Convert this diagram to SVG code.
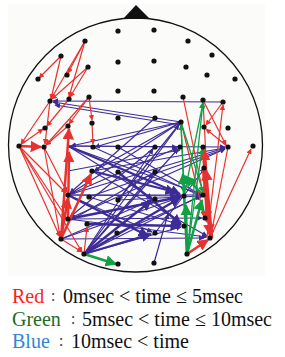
<svg xmlns="http://www.w3.org/2000/svg" width="285" height="357" viewBox="0 0 285 357">
<style>
.dot{fill:#111}
.r{stroke:#e8322f;stroke-width:1.2;fill:none;marker-end:url(#mr)}
.rt{stroke:#e8322f;stroke-width:2.5;fill:none;marker-end:url(#mr)}
.g{stroke:#12a046;stroke-width:1.3;fill:none;marker-end:url(#mg)}
.gt{stroke:#12a046;stroke-width:2.5;fill:none;marker-end:url(#mg)}
.b{stroke:#3d2b96;stroke-width:1.2;fill:none;marker-end:url(#mb)}
.bt{stroke:#3d2b96;stroke-width:2.3;fill:none;marker-end:url(#mb)}
text{font-family:"Liberation Serif","Noto Sans CJK JP",serif;font-size:20px}
.col{font-size:17px;fill:#444;text-anchor:middle}
</style>
<defs>
<marker id="mr" viewBox="0 0 10 10" refX="9" refY="5" markerWidth="4.6" markerHeight="4.6" markerUnits="strokeWidth" orient="auto"><path d="M0,0L10,5L0,10z" fill="#e8322f"/></marker>
<marker id="mg" viewBox="0 0 10 10" refX="9" refY="5" markerWidth="4.6" markerHeight="4.6" markerUnits="strokeWidth" orient="auto"><path d="M0,0L10,5L0,10z" fill="#12a046"/></marker>
<marker id="mb" viewBox="0 0 10 10" refX="9" refY="5" markerWidth="4.6" markerHeight="4.6" markerUnits="strokeWidth" orient="auto"><path d="M0,0L10,5L0,10z" fill="#3d2b96"/></marker>
</defs>
<rect width="285" height="357" fill="#fff"/>
<rect x="8" y="4" width="257" height="272" fill="#fbfbfa"/>
<g id="head">
<circle cx="135.5" cy="145" r="127" fill="none" stroke="#111" stroke-width="1.3"/>
<path d="M123,19L136,5L150,19z" fill="#111"/>
</g>
<g id="connectors">
<!-- blue -->
<line class="b" x1="223" y1="102" x2="53" y2="101"/>
<line class="b" x1="181" y1="122" x2="53" y2="102"/>
<line class="b" x1="181" y1="125" x2="55" y2="105"/>
<line class="b" x1="181" y1="122" x2="71" y2="146"/>
<line class="b" x1="181" y1="122" x2="95" y2="147"/>
<line class="b" x1="181" y1="122" x2="94" y2="171"/>
<line class="b" x1="181" y1="122" x2="70" y2="194"/>
<line class="b" x1="84" y1="254" x2="179" y2="125"/>
<line class="b" x1="68" y1="146" x2="225" y2="147"/>
<line class="b" x1="68" y1="146" x2="177" y2="147"/>
<line class="b" x1="68" y1="146" x2="200" y2="194"/>
<line class="bt" x1="68" y1="146" x2="180" y2="194"/>
<line class="b" x1="68" y1="146" x2="152" y2="198"/>
<line class="b" x1="92" y1="171" x2="225" y2="148"/>
<line class="b" x1="68" y1="195" x2="225" y2="148"/>
<line class="b" x1="68" y1="195" x2="177" y2="148"/>
<line class="b" x1="68" y1="195" x2="181" y2="196"/>
<line class="b" x1="68" y1="195" x2="200" y2="195"/>
<line class="b" x1="89" y1="197" x2="225" y2="149"/>
<line class="b" x1="68" y1="219" x2="225" y2="149"/>
<line class="bt" x1="68" y1="219" x2="180" y2="197"/>
<line class="b" x1="68" y1="219" x2="202" y2="218"/>
<line class="b" x1="68" y1="219" x2="207" y2="237"/>
<line class="bt" x1="87" y1="224" x2="180" y2="226"/>
<line class="b" x1="61" y1="239" x2="204" y2="238"/>
<line class="b" x1="61" y1="239" x2="181" y2="197"/>
<line class="b" x1="61" y1="239" x2="152" y2="200"/>
<line class="b" x1="84" y1="254" x2="178" y2="149"/>
<line class="b" x1="84" y1="254" x2="153" y2="149"/>
<line class="bt" x1="84" y1="254" x2="180" y2="198"/>
<line class="bt" x1="84" y1="254" x2="151" y2="201"/>
<line class="b" x1="84" y1="254" x2="181" y2="227"/>
<line class="bt" x1="84" y1="254" x2="151" y2="234"/>
<line class="b" x1="84" y1="254" x2="153" y2="174"/>
<line class="b" x1="84" y1="254" x2="200" y2="196"/>
<line class="b" x1="154" y1="263" x2="168" y2="214"/>
<line class="b" x1="118" y1="147" x2="201" y2="195"/>
<line class="b" x1="93" y1="147" x2="201" y2="196"/>
<line class="b" x1="155" y1="118" x2="70" y2="193"/>
<line class="bt" x1="118" y1="172" x2="181" y2="224"/>
<line class="b" x1="92" y1="171" x2="207" y2="236"/>
<line class="b" x1="68" y1="195" x2="152" y2="232"/>
<line class="b" x1="89" y1="197" x2="181" y2="225"/>
<line class="b" x1="118" y1="200" x2="201" y2="196"/>
<line class="b" x1="155" y1="147" x2="70" y2="217"/>
<line class="b" x1="181" y1="122" x2="118" y2="200"/>
<line class="b" x1="155" y1="172" x2="71" y2="220"/>
<line class="bt" x1="92" y1="171" x2="175" y2="192"/>
<line class="b" x1="118" y1="233" x2="202" y2="196"/>
<line class="b" x1="155" y1="233" x2="205" y2="168"/>
<line class="b" x1="68" y1="171" x2="180" y2="150"/>
<line class="bt" x1="68" y1="195" x2="148" y2="236"/>
<!-- red -->
<line class="r" x1="61" y1="56" x2="39" y2="78"/>
<line class="r" x1="85" y1="41" x2="68" y2="73"/>
<line class="r" x1="85" y1="41" x2="51" y2="99"/>
<line class="r" x1="61" y1="56" x2="51" y2="99"/>
<line class="r" x1="88" y1="67" x2="52" y2="99"/>
<line class="r" x1="88" y1="67" x2="70" y2="97"/>
<line class="r" x1="85" y1="41" x2="69" y2="97"/>
<line class="r" x1="89" y1="97" x2="92" y2="120"/>
<line class="r" x1="92" y1="123" x2="93" y2="144"/>
<line class="r" x1="89" y1="97" x2="46" y2="145"/>
<line class="r" x1="89" y1="97" x2="69" y2="124"/>
<line class="r" x1="69" y1="99" x2="47" y2="126"/>
<line class="r" x1="50" y1="101" x2="21" y2="144"/>
<line class="r" x1="50" y1="101" x2="45" y2="144"/>
<line class="r" x1="19" y1="146" x2="43" y2="129"/>
<line class="r" x1="68" y1="126" x2="46" y2="145"/>
<line class="r" x1="44" y1="147" x2="60" y2="236"/>
<line class="r" x1="44" y1="147" x2="67" y2="192"/>
<line class="r" x1="19" y1="146" x2="60" y2="237"/>
<line class="r" x1="19" y1="146" x2="82" y2="252"/>
<line class="r" x1="19" y1="146" x2="66" y2="193"/>
<line class="r" x1="19" y1="146" x2="66" y2="217"/>
<line class="r" x1="61" y1="239" x2="82" y2="252"/>
<line class="r" x1="84" y1="254" x2="87" y2="227"/>
<line class="r" x1="203" y1="100" x2="210" y2="235"/>
<line class="r" x1="207" y1="237" x2="223" y2="105"/>
<line class="r" x1="203" y1="100" x2="226" y2="145"/>
<line class="r" x1="228" y1="147" x2="206" y2="129"/>
<line class="r" x1="223" y1="102" x2="206" y2="125"/>
<line class="r" x1="228" y1="147" x2="211" y2="235"/>
<line class="r" x1="210" y1="238" x2="251" y2="149"/>
<line class="r" x1="181" y1="122" x2="204" y2="216"/>
<line class="r" x1="183" y1="97" x2="203" y2="193"/>
<line class="rt" x1="19" y1="146" x2="41" y2="147"/>
<line class="rt" x1="61" y1="239" x2="69" y2="129"/>
<line class="rt" x1="61" y1="239" x2="68" y2="198"/>
<line class="rt" x1="68" y1="219" x2="69" y2="152"/>
<line class="rt" x1="61" y1="239" x2="91" y2="174"/>
<line class="rt" x1="187" y1="254" x2="208" y2="240"/>
<line class="rt" x1="210" y1="238" x2="204" y2="150"/>
<line class="rt" x1="212" y1="238" x2="206" y2="170"/>
<line class="rt" x1="203" y1="170" x2="210" y2="235"/>
<line class="rt" x1="203" y1="147" x2="207" y2="222"/>
<!-- green -->
<line class="g" x1="187" y1="254" x2="203" y2="102"/>
<line class="g" x1="187" y1="254" x2="181" y2="125"/>
<line class="g" x1="184" y1="196" x2="203" y2="103"/>
<line class="g" x1="187" y1="254" x2="202" y2="149"/>
<line class="g" x1="181" y1="122" x2="184" y2="193"/>
<line class="g" x1="181" y1="122" x2="203" y2="192"/>
<line class="gt" x1="84" y1="254" x2="116" y2="264"/>
<line class="gt" x1="187" y1="254" x2="183" y2="174"/>
<line class="gt" x1="187" y1="254" x2="186" y2="205"/>
<line class="gt" x1="187" y1="254" x2="202" y2="200"/>
<line class="gt" x1="203" y1="195" x2="185" y2="176"/>
</g>
<g id="nodes">
<g id="n1"><circle class="dot" cx="118" cy="31" r="2.6"/></g>
<g id="n2"><circle class="dot" cx="154" cy="30" r="2.6"/></g>
<g id="n3"><circle class="dot" cx="85" cy="41" r="2.6"/></g>
<g id="n4"><circle class="dot" cx="188" cy="41" r="2.6"/></g>
<g id="n5"><circle class="dot" cx="61" cy="56" r="2.6"/></g>
<g id="n6"><circle class="dot" cx="118" cy="62" r="2.6"/></g>
<g id="n7"><circle class="dot" cx="154" cy="61" r="2.6"/></g>
<g id="n8"><circle class="dot" cx="186" cy="67" r="2.6"/></g>
<g id="n9"><circle class="dot" cx="212" cy="55" r="2.6"/></g>
<g id="n10"><circle class="dot" cx="88" cy="67" r="2.6"/></g>
<g id="n11"><circle class="dot" cx="38" cy="79" r="2.6"/></g>
<g id="n12"><circle class="dot" cx="67" cy="75" r="2.6"/></g>
<g id="n13"><circle class="dot" cx="207" cy="75" r="2.6"/></g>
<g id="n14"><circle class="dot" cx="235" cy="79" r="2.6"/></g>
<g id="n15"><circle class="dot" cx="50" cy="101" r="2.6"/></g>
<g id="n16"><circle class="dot" cx="69" cy="99" r="2.6"/></g>
<g id="n17"><circle class="dot" cx="89" cy="97" r="2.6"/></g>
<g id="n18"><circle class="dot" cx="118" cy="91" r="2.6"/></g>
<g id="n19"><circle class="dot" cx="154" cy="91" r="2.6"/></g>
<g id="n20"><circle class="dot" cx="183" cy="97" r="2.6"/></g>
<g id="n21"><circle class="dot" cx="203" cy="100" r="2.6"/></g>
<g id="n22"><circle class="dot" cx="223" cy="102" r="2.6"/></g>
<g id="n23"><circle class="dot" cx="92" cy="123" r="2.6"/></g>
<g id="n24"><circle class="dot" cx="118" cy="118" r="2.6"/></g>
<g id="n25"><circle class="dot" cx="155" cy="118" r="2.6"/></g>
<g id="n26"><circle class="dot" cx="181" cy="122" r="2.6"/></g>
<g id="n27"><circle class="dot" cx="45" cy="128" r="2.6"/></g>
<g id="n28"><circle class="dot" cx="68" cy="126" r="2.6"/></g>
<g id="n29"><circle class="dot" cx="204" cy="127" r="2.6"/></g>
<g id="n30"><circle class="dot" cx="228" cy="128" r="2.6"/></g>
<g id="n31"><circle class="dot" cx="19" cy="146" r="2.6"/></g>
<g id="n32"><circle class="dot" cx="44" cy="147" r="2.6"/></g>
<g id="n33"><circle class="dot" cx="93" cy="147" r="2.6"/></g>
<g id="n34"><circle class="dot" cx="118" cy="147" r="2.6"/></g>
<g id="n35"><circle class="dot" cx="155" cy="147" r="2.6"/></g>
<g id="n36"><circle class="dot" cx="180" cy="147" r="2.6"/></g>
<g id="n37"><circle class="dot" cx="203" cy="147" r="2.6"/></g>
<g id="n38"><circle class="dot" cx="228" cy="147" r="2.6"/></g>
<g id="n39"><circle class="dot" cx="253" cy="146" r="2.6"/></g>
<g id="n40"><circle class="dot" cx="92" cy="171" r="2.6"/></g>
<g id="n41"><circle class="dot" cx="118" cy="172" r="2.6"/></g>
<g id="n42"><circle class="dot" cx="155" cy="172" r="2.6"/></g>
<g id="n43"><circle class="dot" cx="204" cy="168" r="2.6"/></g>
<g id="n44"><circle class="dot" cx="68" cy="195" r="2.6"/></g>
<g id="n45"><circle class="dot" cx="89" cy="197" r="2.6"/></g>
<g id="n46"><circle class="dot" cx="118" cy="200" r="2.6"/></g>
<g id="n47"><circle class="dot" cx="155" cy="199" r="2.6"/></g>
<g id="n48"><circle class="dot" cx="184" cy="196" r="2.6"/></g>
<g id="n49"><circle class="dot" cx="203" cy="195" r="2.6"/></g>
<g id="n50"><circle class="dot" cx="68" cy="219" r="2.6"/></g>
<g id="n51"><circle class="dot" cx="87" cy="224" r="2.6"/></g>
<g id="n52"><circle class="dot" cx="117" cy="233" r="2.6"/></g>
<g id="n53"><circle class="dot" cx="155" cy="233" r="2.6"/></g>
<g id="n54"><circle class="dot" cx="184" cy="226" r="2.6"/></g>
<g id="n55"><circle class="dot" cx="205" cy="218" r="2.6"/></g>
<g id="n56"><circle class="dot" cx="61" cy="239" r="2.6"/></g>
<g id="n57"><circle class="dot" cx="210" cy="238" r="2.6"/></g>
<g id="n58"><circle class="dot" cx="84" cy="254" r="2.6"/></g>
<g id="n59"><circle class="dot" cx="187" cy="254" r="2.6"/></g>
<g id="n60"><circle class="dot" cx="118" cy="264" r="2.6"/></g>
<g id="n61"><circle class="dot" cx="154" cy="263" r="2.6"/></g>
</g>
<g id="legend">
<text x="12" y="303" fill="#ff1e1e">Red</text>
<text class="col" x="53" y="301">:</text>
<text x="63" y="303" fill="#111">0msec &lt; time ≤ 5msec</text>
<text x="12" y="326" fill="#1f6b1f">Green</text>
<text class="col" x="73" y="324">:</text>
<text x="82" y="326" fill="#111">5msec &lt; time ≤ 10msec</text>
<text x="12" y="348" fill="#2f86d6">Blue</text>
<text class="col" x="61" y="346">:</text>
<text x="71" y="348" fill="#111">10msec &lt; time</text>
</g>
</svg>
